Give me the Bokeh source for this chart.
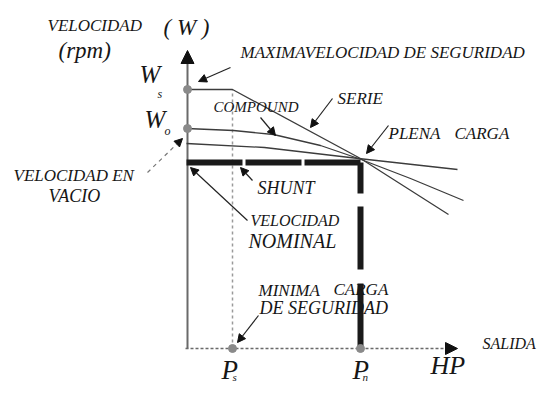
from bokeh.plotting import figure
from bokeh.models import Range1d, Arrow, NormalHead
from bokeh.embed import file_html
from bokeh.resources import INLINE
from bokeh.core.properties import value

# ---- key quantities (diagram units, origin at the axes intersection) ----
P_S = 46          # minimum safe load
P_N = 174         # rated (full) load
W_S = 259         # maximum safe speed
W_0 = 220         # no-load speed
W_N = 186         # rated speed
AXIS_X_END = 271
AXIS_Y_END = 298

# ---- speed / output characteristics ----
serie_x = [0, 46, 174, 262]
serie_y = [259, 259, 190, 134]
compound_x = [0, 47, 87, 134, 172, 224, 277]
compound_y = [220, 218, 214, 203, 190, 170, 148]
shunt_x = [0, 78, 172, 271]
shunt_y = [205, 201, 190, 179]

# ---- figure ----
p = figure(width=540, height=383, output_backend="svg", toolbar_location=None,
           x_range=Range1d(-186, 354), y_range=Range1d(-35, 348),
           min_border=0, outline_line_color=None)
p.axis.visible = False
p.grid.visible = False

INK = "#161616"
LINE = "#3c3c3c"
GREY = "#8a8a8a"
FONT = value("Liberation Serif")

# axes
p.line([1, 1], [0, AXIS_Y_END - 10], line_color="#6a6a6a", line_width=2)
p.add_layout(Arrow(end=NormalHead(size=13, fill_color="#111111", line_color="#111111"),
                   x_start=1, y_start=AXIS_Y_END - 14, x_end=1, y_end=AXIS_Y_END,
                   line_alpha=0))
p.line([-1, AXIS_X_END - 10], [0, 0], line_color="#6a6a6a", line_width=1.5, line_dash="3 2")
p.add_layout(Arrow(end=NormalHead(size=12, fill_color="#111111", line_color="#111111"),
                   x_start=AXIS_X_END - 14, y_start=0, x_end=AXIS_X_END, y_end=0,
                   line_alpha=0))

# minimum-load guide
p.line([P_S, P_S], [0, W_S], line_color="#9a9a9a", line_width=1.5, line_dash="3 3")

# rated speed / rated load (bold dashed)
p.line([0, P_N + 3], [W_N, W_N], line_color="#1a1a1a", line_width=6, line_dash="56 3")
p.line([P_N, P_N], [W_N, 0], line_color="#1a1a1a", line_width=6,
       line_dash="31 13 63 14 90 10")

# characteristics
p.line(serie_x, serie_y, line_color=LINE, line_width=1.3)
p.line(compound_x, compound_y, line_color=LINE, line_width=1.3)
p.line(shunt_x, shunt_y, line_color=LINE, line_width=1.3)

# points
p.scatter([1, 1, P_S, P_N], [W_S, W_0, 0, 0], size=8, fill_color=GREY, line_color=GREY)

# pointer arrows
def pointer(x0, y0, x1, y1, dash="solid", color="#222222"):
    p.add_layout(Arrow(end=NormalHead(size=8, fill_color="#111111", line_color="#111111"),
                       x_start=x0, y_start=y0, x_end=x1, y_end=y1,
                       line_color=color, line_width=1.2, line_dash=dash))

pointer(44, 281, 12, 267)      # maxima velocidad
pointer(74, 231, 89, 213)      # compound
pointer(146, 250, 124, 221)    # serie
pointer(202, 223, 180, 195)    # plena carga
pointer(-39, 176, -4, 210, dash="4 4", color="#777777")   # vacio
pointer(66, 168, 54, 181)      # shunt
pointer(61, 128, 4, 181)       # velocidad nominal
pointer(72, 33, 51, 6)         # minima carga

# labels
def label(x, y, txt, size, style="italic", align="left"):
    p.text([x], [y], text=[txt], text_font=FONT, text_font_size=f"{size}px",
           text_font_style=style, text_color=INK, text_align=align,
           text_baseline="middle")

label(-139, 323, "VELOCIDAD", 17)
label(-23, 321, "( W )", 23)
label(-128, 298, "(rpm)", 23)
label(-47, 274, "W", 25)
label(-29, 255, "s", 12)
label(-42, 229, "W", 25)
label(-22, 218, "o", 12)
label(54, 296, "MAXIMAVELOCIDAD DE SEGURIDAD", 17)
label(27, 242, "COMPOUND", 15)
label(151, 250, "SERIE", 17)
label(202, 215, "PLENA", 17)
label(268, 215, "CARGA", 17)
label(-173, 173, "VELOCIDAD EN", 17)
label(-138, 153, "VACIO", 18)
label(71, 161, "SHUNT", 18)
label(64, 128, "VELOCIDAD", 16)
label(62, 108, "NOMINAL", 20)
label(72, 58, "MINIMA", 17)
label(147, 59, "CARGA", 17)
label(73, 41, "DE SEGURIDAD", 18)
label(296, 5, "SALIDA", 16)
label(244, -17, "HP", 26)
label(35, -21, "P", 27)
label(46, -28, "s", 11)
label(166, -21, "P", 27)
label(176, -28, "n", 11)

open("out.html", "w").write(file_html(p, INLINE))
